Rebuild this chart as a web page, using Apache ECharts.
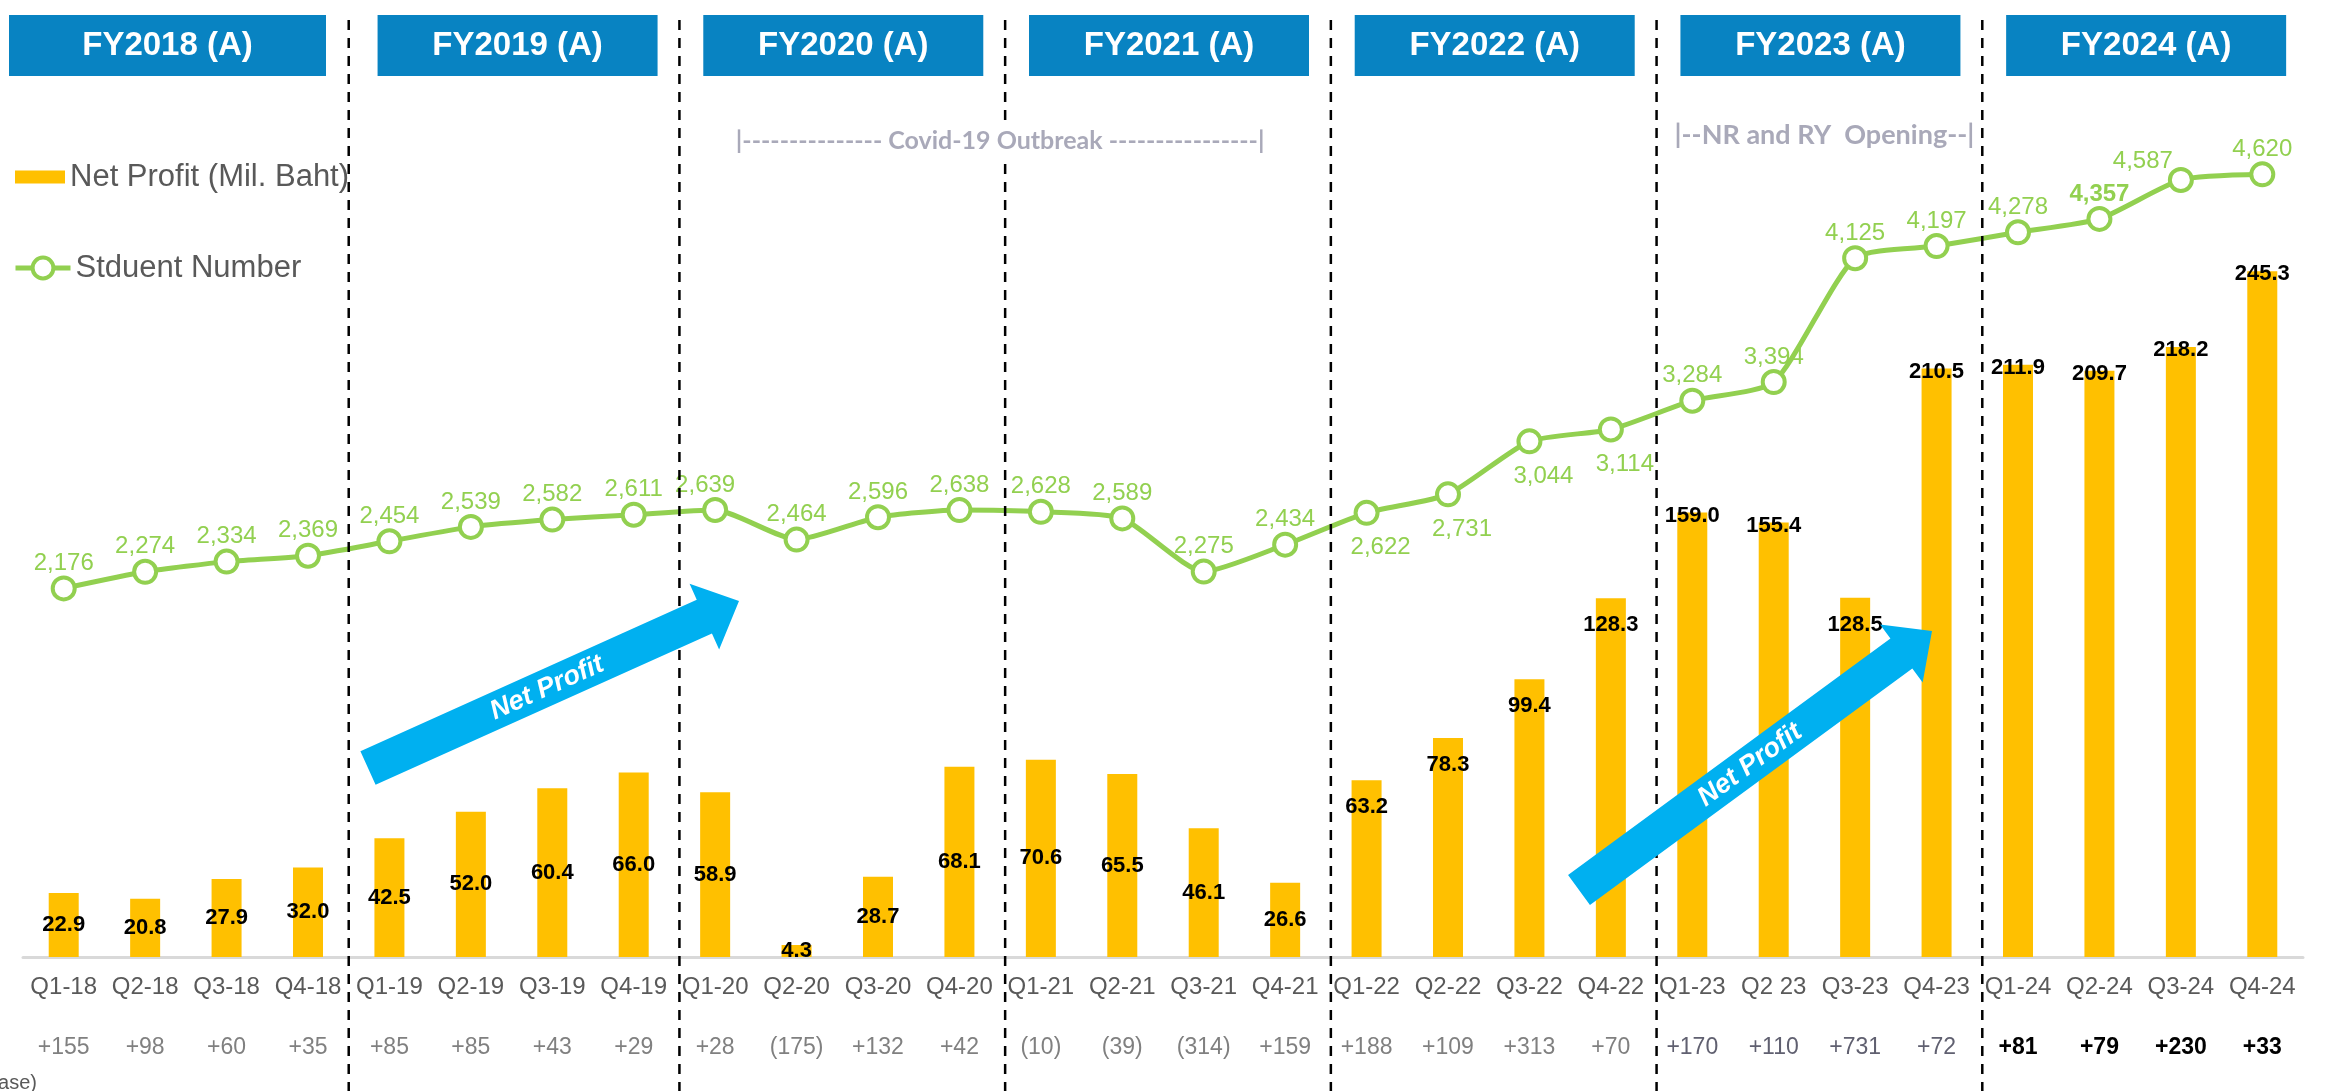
<!DOCTYPE html>
<html>
<head>
<meta charset="utf-8">
<script src="https://cdn.jsdelivr.net/npm/echarts@6/dist/echarts.min.js"></script>
<style>
  html, body { margin: 0; padding: 0; background: #ffffff; }
  #chart { width: 2335px; height: 1091px; }
</style>
</head>
<body>
<div id="chart"></div>
<script>
// quarters on the x axis (Q2 23 is written without the dash in the original)
const quarters = [
  "Q1-18", "Q2-18", "Q3-18", "Q4-18",
  "Q1-19", "Q2-19", "Q3-19", "Q4-19",
  "Q1-20", "Q2-20", "Q3-20", "Q4-20",
  "Q1-21", "Q2-21", "Q3-21", "Q4-21",
  "Q1-22", "Q2-22", "Q3-22", "Q4-22",
  "Q1-23", "Q2 23", "Q3-23", "Q4-23",
  "Q1-24", "Q2-24", "Q3-24", "Q4-24"
];
const years = ["FY2018 (A)", "FY2019 (A)", "FY2020 (A)", "FY2021 (A)", "FY2022 (A)", "FY2023 (A)", "FY2024 (A)"];

// net profit, mil. baht
const netProfit = [
  22.9, 20.8, 27.9, 32.0,
  42.5, 52.0, 60.4, 66.0,
  58.9, 4.3, 28.7, 68.1,
  70.6, 65.5, 46.1, 26.6,
  63.2, 78.3, 99.4, 128.3,
  159.0, 155.4, 128.5, 210.5,
  211.9, 209.7, 218.2, 245.3
];

// student number
const students = [
  2176, 2274, 2334, 2369,
  2454, 2539, 2582, 2611,
  2639, 2464, 2596, 2638,
  2628, 2589, 2275, 2434,
  2622, 2731, 3044, 3114,
  3284, 3394, 4125, 4197,
  4278, 4357, 4587, 4620
];

// student increase row under the quarters
const increase = [
  "+155", "+98", "+60", "+35",
  "+85", "+85", "+43", "+29",
  "+28", "(175)", "+132", "+42",
  "(10)", "(39)", "(314)", "+159",
  "+188", "+109", "+313", "+70",
  "+170", "+110", "+731", "+72",
  "+81", "+79", "+230", "+33"
];

const FONT = "Liberation Sans, Arial, sans-serif";
const GREEN = "#92D050";
const YELLOW = "#FFC000";
const BLUE_BOX = "#0883C2";
const ARROW = "#00B0F0";
const NOTE = "#A9A9B9";

function barLabel(i) {
  const g = Math.floor(i / 4);
  if (g < 4) return { position: "inside" };
  if (g === 4 || i === 22) return { position: "insideTop", distance: 16 };
  return { position: "top", distance: 0, offset: [0, 14] };
}

function lineLabel(i) {
  const g = Math.floor(i / 4);
  if (g === 4) return { position: "bottom", distance: 10, offset: [14, 0] };
  if (i === 26) return { position: "top", distance: 0, offset: [-38, 6] };
  if (i === 8) return { position: "top", distance: 0, offset: [-10, 0] };
  if (i === 25) return { position: "top", distance: 0, fontWeight: "bold" };
  return { position: "top", distance: 0 };
}

function incStyle(i) {
  const g = Math.floor(i / 4);
  if (g === 6) return "db";
  if (g === 5) return "d2";
  return "d";
}

let myChart = echarts.init(document.getElementById("chart"));

const legendText = { fontSize: 31, color: "#595959", fontFamily: FONT, lineHeight: 36 };

let option = {
  animation: false,
  textStyle: { fontFamily: FONT },
  grid: { left: 23, right: 32, top: 110, bottom: 134 },
  legend: [
    {
      left: 15,
      top: 159,
      padding: 0,
      itemWidth: 50,
      itemHeight: 13,
      textStyle: legendText,
      data: [{ name: "Net Profit (Mil. Baht)", icon: "rect" }]
    },
    {
      left: 13,
      top: 250,
      padding: 0,
      itemWidth: 55,
      itemHeight: 26,
      lineStyle: { width: 5 },
      itemStyle: { borderWidth: 4 },
      textStyle: legendText,
      data: [{ name: "Stduent Number" }]
    }
  ],
  xAxis: {
    type: "category",
    data: quarters,
    axisTick: { show: false },
    axisLine: { lineStyle: { color: "#D9D9D9", width: 3 } },
    axisLabel: {
      interval: 0,
      margin: 15,
      formatter: function (value, idx) {
        return "{q|" + value + "}\n{" + incStyle(idx) + "|" + increase[idx] + "}";
      },
      rich: {
        q: { fontSize: 24, color: "#595959", lineHeight: 30, fontFamily: FONT },
        d: { fontSize: 23, color: "#808080", lineHeight: 92, fontFamily: FONT },
        d2: { fontSize: 23, color: "#606070", lineHeight: 92, fontFamily: FONT },
        db: { fontSize: 23, color: "#000000", fontWeight: "bold", lineHeight: 92, fontFamily: FONT }
      }
    }
  },
  yAxis: [
    { type: "value", min: 0, max: 303, show: false, splitLine: { show: false } },
    { type: "value", min: 0, max: 5000, show: false, splitLine: { show: false } }
  ],
  series: [
    {
      name: "Net Profit (Mil. Baht)",
      type: "bar",
      yAxisIndex: 0,
      barWidth: 30,
      itemStyle: { color: YELLOW },
      label: {
        show: true,
        color: "#000000",
        fontSize: 22,
        fontWeight: "bold",
        fontFamily: FONT,
        formatter: function (p) { return p.value.toFixed(1); }
      },
      data: netProfit.map(function (v, i) { return { value: v, label: barLabel(i) }; }),
      z: 2
    },
    {
      name: "Stduent Number",
      type: "line",
      yAxisIndex: 1,
      smooth: 0.2,
      symbol: "circle",
      symbolSize: 22,
      showAllSymbol: true,
      lineStyle: { color: GREEN, width: 5 },
      itemStyle: { color: "#ffffff", borderColor: GREEN, borderWidth: 4 },
      label: {
        show: true,
        color: GREEN,
        fontSize: 24,
        fontFamily: FONT,
        formatter: function (p) { return p.value.toLocaleString("en-US"); }
      },
      data: students.map(function (v, i) { return { value: v, label: lineLabel(i) }; }),
      z: 6
    }
  ]
};

myChart.setOption(option);

// decorations placed from the category axis
function px(i) {
  return myChart.convertToPixel({ xAxisIndex: 0 }, quarters[i]);
}

let graphics = [];

// dashed separators between fiscal years
for (let k = 1; k < years.length; k++) {
  let x = (px(k * 4 - 1) + px(k * 4)) / 2 + (k === 1 ? 0 : 5);
  graphics.push({
    type: "line",
    z: 20,
    shape: { x1: x, y1: 20, x2: x, y2: 1091 },
    style: { stroke: "#000000", lineWidth: 2.5, lineDash: [10, 8] }
  });
}

// year header boxes (the first one is wider and sits on the left edge)
for (let k = 0; k < years.length; k++) {
  let cx = (px(k * 4) + px(k * 4 + 3)) / 2 + 6;
  let x0 = cx - 140, w = 280;
  if (k === 0) { x0 = 9; w = 317; cx = x0 + w / 2; }
  graphics.push({
    type: "rect",
    z: 30,
    shape: { x: x0, y: 15, width: w, height: 61 },
    style: { fill: BLUE_BOX }
  });
  graphics.push({
    type: "text",
    z: 31,
    x: cx,
    y: 46,
    style: {
      text: years[k],
      fill: "#ffffff",
      font: "bold 33px " + FONT,
      align: "center",
      verticalAlign: "middle"
    }
  });
}

// period notes
graphics.push({
  type: "text",
  z: 32,
  x: (px(8) + px(15)) / 2,
  y: 141,
  style: {
    text: "|--------------- Covid-19 Outbreak ----------------|",
    fill: NOTE,
    font: "bold 25px Lato, sans-serif",
    align: "center",
    verticalAlign: "middle",
    backgroundColor: "#ffffff",
    padding: [6, 2]
  }
});
graphics.push({
  type: "text",
  z: 32,
  x: (px(20) + px(23)) / 2 + 10,
  y: 135,
  style: {
    text: "|--NR and RY  Opening--|",
    fill: NOTE,
    font: "bold 27px Lato, sans-serif",
    align: "center",
    verticalAlign: "middle"
  }
});

// blue "Net Profit" arrows
function arrow(tailA, tailB, tip, width, headW, headL) {
  let tx = (tailA[0] + tailB[0]) / 2, ty = (tailA[1] + tailB[1]) / 2;
  let dx = tip[0] - tx, dy = tip[1] - ty;
  let len = Math.sqrt(dx * dx + dy * dy);
  let ux = dx / len, uy = dy / len;
  let nx = uy, ny = -ux;
  let bx = tip[0] - ux * headL, by = tip[1] - uy * headL;
  let h = width / 2;
  return [
    [tx - nx * h, ty - ny * h],
    [bx - nx * h, by - ny * h],
    [bx - nx * headW, by - ny * headW],
    tip,
    [bx + nx * headW, by + ny * headW],
    [bx + nx * h, by + ny * h],
    [tx + nx * h, ty + ny * h]
  ];
}

let arrows = [
  { a: [360, 751], b: [376, 785], tip: [739, 601], text: [547, 688] },
  { a: [1568, 875], b: [1590, 905], tip: [1932, 631], text: [1750, 765] }
];
arrows.forEach(function (ar) {
  let tx = (ar.a[0] + ar.b[0]) / 2, ty = (ar.a[1] + ar.b[1]) / 2;
  let ang = Math.atan2(ty - ar.tip[1], ar.tip[0] - tx);
  graphics.push({
    type: "polygon",
    z: 25,
    shape: { points: arrow(ar.a, ar.b, ar.tip, 37, 36, 38) },
    style: { fill: ARROW }
  });
  graphics.push({
    type: "text",
    z: 26,
    x: ar.text[0],
    y: ar.text[1],
    rotation: ang,
    style: {
      text: "Net Profit",
      fill: "#ffffff",
      font: "italic bold 27px " + FONT,
      align: "center",
      verticalAlign: "middle"
    }
  });
});

// cut off footnote at the bottom left
graphics.push({
  type: "text",
  z: 20,
  x: 37,
  y: 1083,
  style: {
    text: "(Student increase)",
    fill: "#595959",
    font: "20px " + FONT,
    align: "right",
    verticalAlign: "middle"
  }
});

myChart.setOption({ graphic: graphics });
</script>
</body>
</html>
